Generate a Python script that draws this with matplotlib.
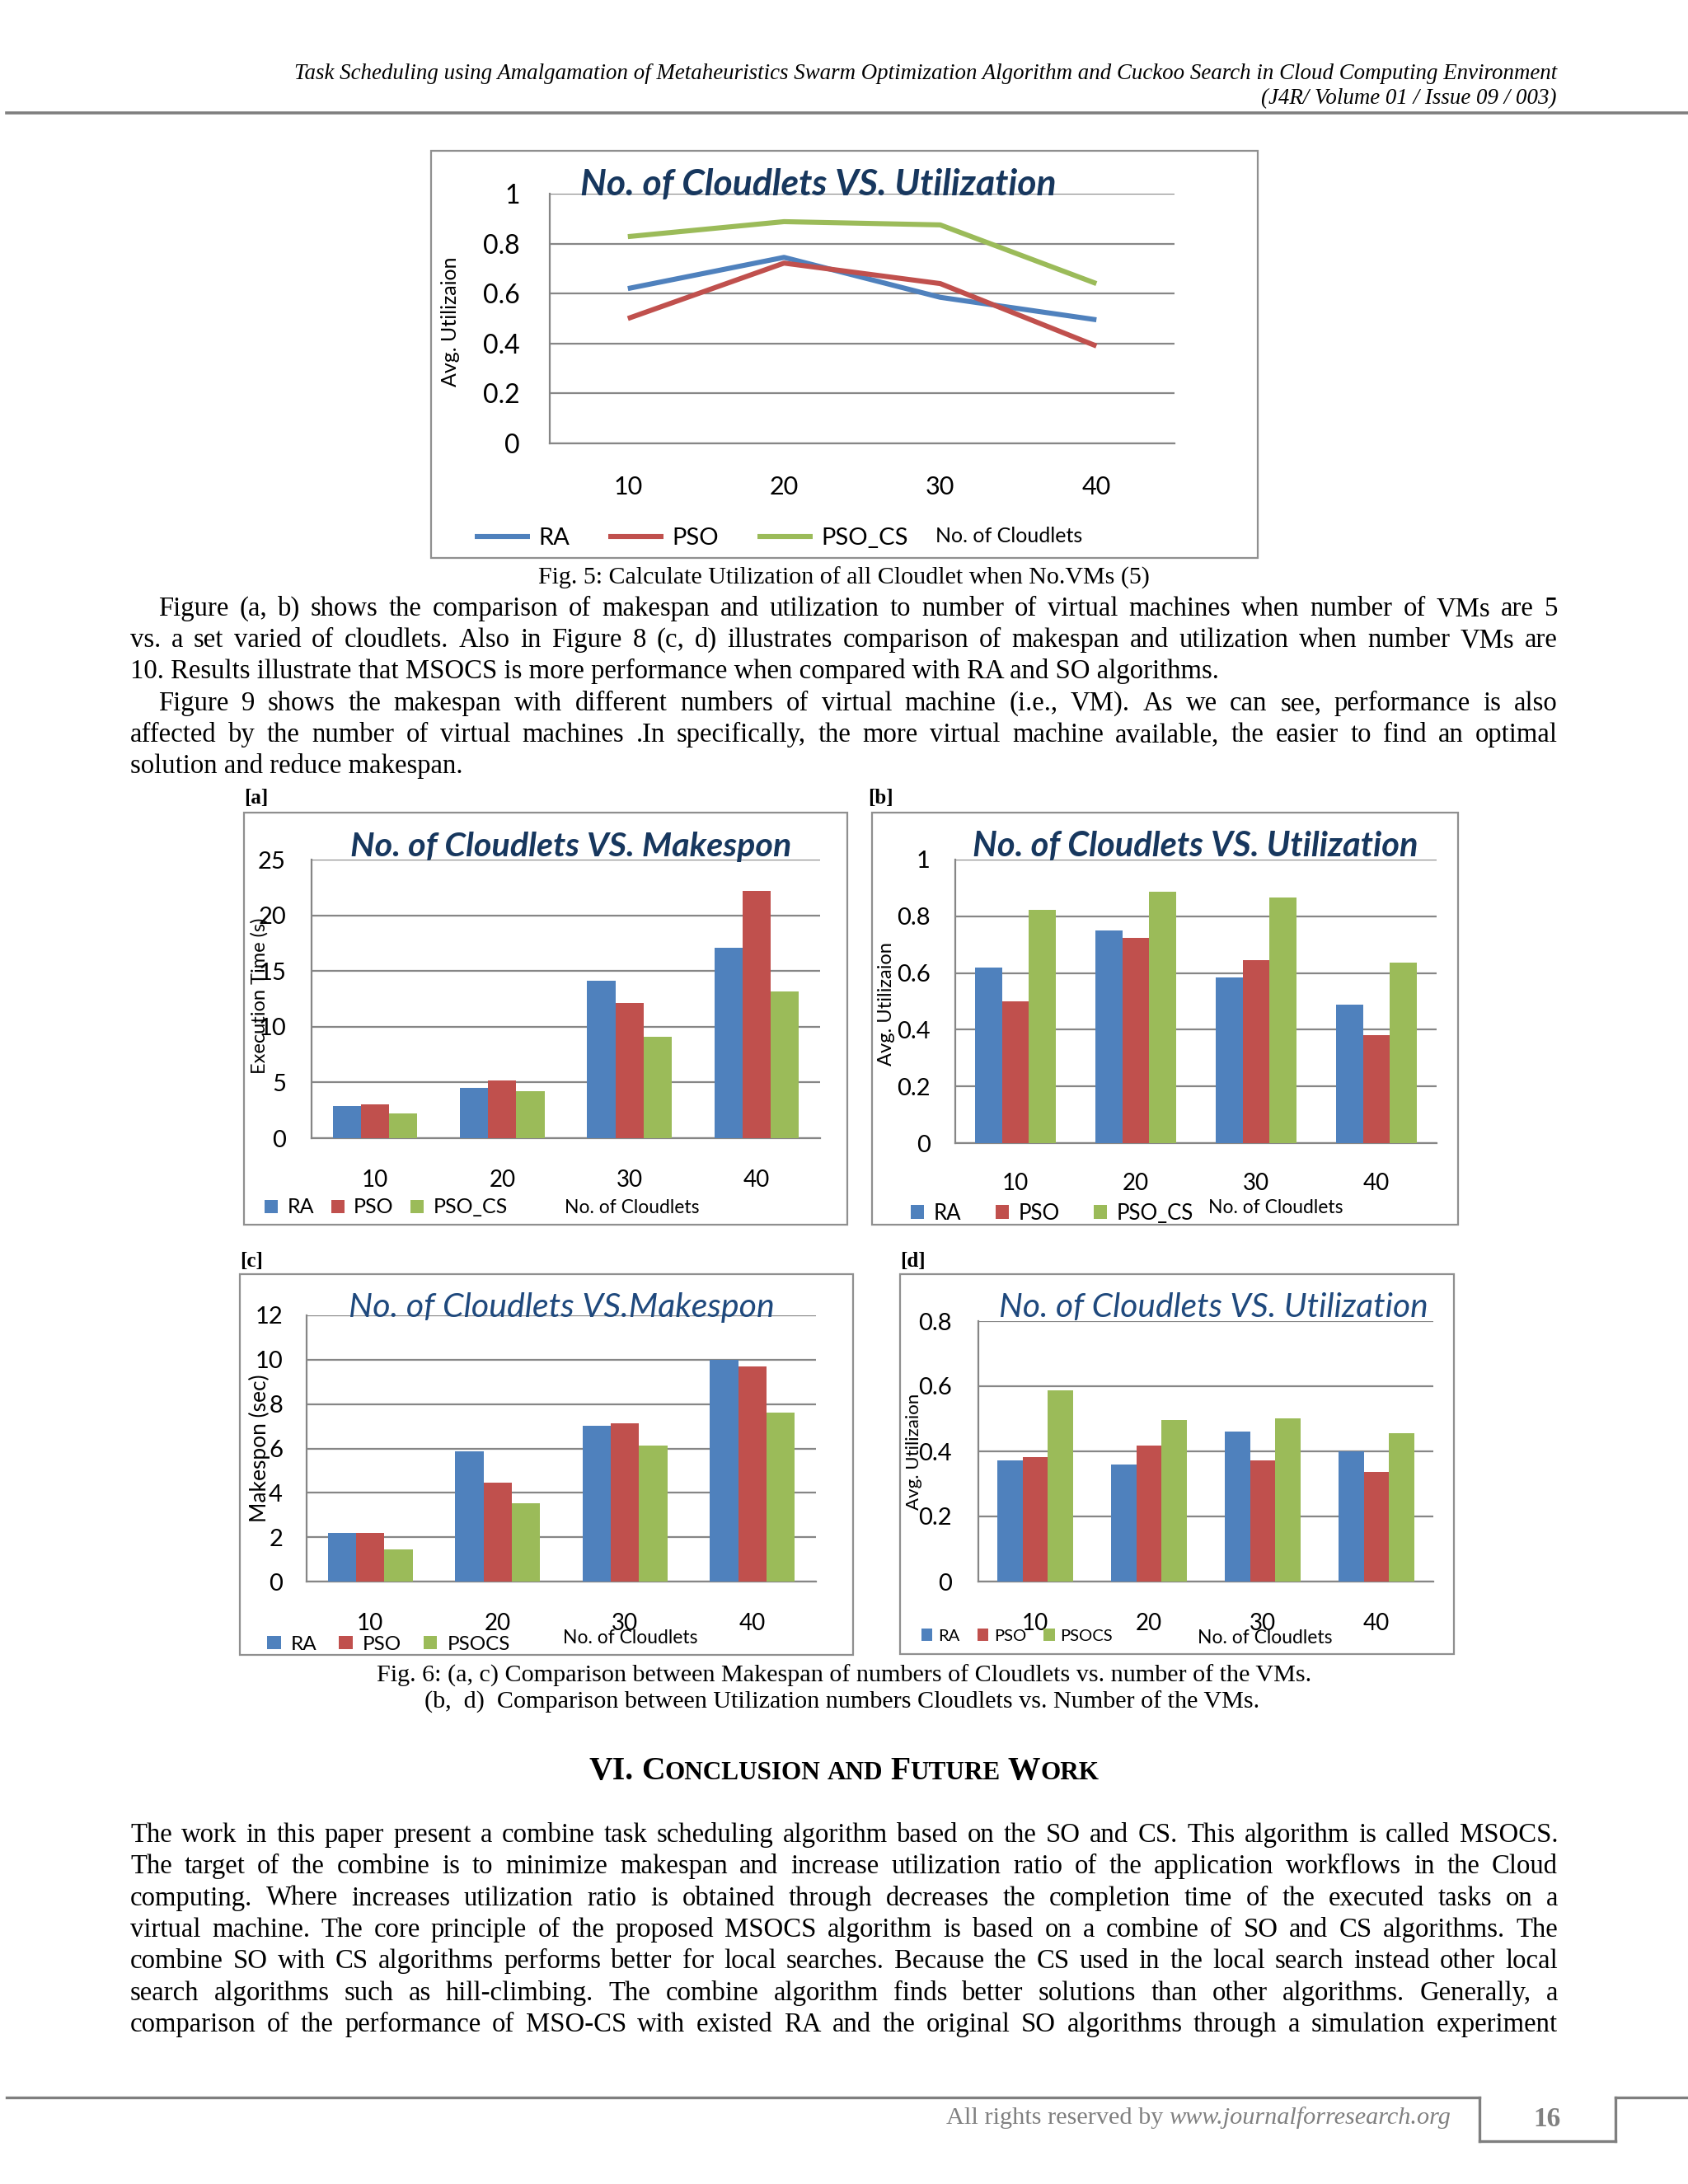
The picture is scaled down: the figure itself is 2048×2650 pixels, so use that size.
import numpy as np
import matplotlib
matplotlib.use('Agg')
import matplotlib.pyplot as plt
from matplotlib.patches import Rectangle
from matplotlib.lines import Line2D
from matplotlib import font_manager

W, H = 2048, 2650

# ---- chart data ----
cloudlets = ['10', '20', '30', '40']
names_cs = ['RA', 'PSO', 'PSO_CS']
names_ocs = ['RA', 'PSO', 'PSOCS']

# Fig. 5: utilization, 5 VMs (lines)
util5_ra = [0.62, 0.745, 0.585, 0.495]
util5_pso = [0.50, 0.722, 0.64, 0.39]
util5_psocs = [0.828, 0.888, 0.875, 0.64]

# [a] makespan, 5 VMs
mk5_ra = [2.9, 4.5, 14.1, 17.1]
mk5_pso = [3.0, 5.2, 12.1, 22.2]
mk5_psocs = [2.2, 4.2, 9.1, 13.2]

# [b] utilization, 5 VMs
ut5_ra = [0.62, 0.75, 0.585, 0.487]
ut5_pso = [0.50, 0.723, 0.644, 0.382]
ut5_psocs = [0.822, 0.887, 0.866, 0.638]

# [c] makespan, 10 VMs
mk10_ra = [2.2, 5.86, 7.02, 10.0]
mk10_pso = [2.2, 4.45, 7.12, 9.7]
mk10_psocs = [1.46, 3.54, 6.12, 7.61]

# [d] utilization, 10 VMs
ut10_ra = [0.371, 0.36, 0.462, 0.40]
ut10_pso = [0.383, 0.417, 0.371, 0.337]
ut10_psocs = [0.587, 0.497, 0.502, 0.456]

# ---- page text ----
header_1 = ('Task Scheduling using Amalgamation of Metaheuristics Swarm Optimization '
            'Algorithm and Cuckoo Search in Cloud Computing Environment')
header_2 = '(J4R/ Volume 01 / Issue 09 / 003)'
caption_5 = 'Fig. 5: Calculate Utilization of all Cloudlet when No.VMs (5)'
para_1 = [
    'Figure (a, b) shows the comparison of makespan and utilization to number of virtual machines when number of VMs are 5',
    'vs. a set varied of cloudlets. Also in Figure 8 (c, d) illustrates comparison of makespan and utilization when number VMs are',
    '10. Results illustrate that MSOCS is more performance when compared with RA and SO algorithms.',
]
para_2 = [
    'Figure 9 shows the makespan with different numbers of virtual machine (i.e., VM). As we can see, performance is also',
    'affected by the number of virtual machines .In specifically, the more virtual machine available, the easier to find an optimal',
    'solution and reduce makespan.',
]
caption_6a = 'Fig. 6: (a, c) Comparison between Makespan of numbers of Cloudlets vs. number of the VMs.'
caption_6b = '(b,  d)  Comparison between Utilization numbers Cloudlets vs. Number of the VMs.'
heading_words = [[('VI.', 'L')], [('C', 'L'), ('ONCLUSION', 'S')], [('AND', 'S')],
                 [('F', 'L'), ('UTURE', 'S')], [('W', 'L'), ('ORK', 'S')]]
para_3 = [
    'The work in this paper present a combine task scheduling algorithm based on the SO and CS. This algorithm is called MSOCS.',
    'The target of the combine is to minimize makespan and increase utilization ratio of the application workflows in the Cloud',
    'computing. Where increases utilization ratio is obtained through decreases the completion time of the executed tasks on a',
    'virtual machine. The core principle of the proposed MSOCS algorithm is based on a combine of SO and CS algorithms. The',
    'combine SO with CS algorithms performs better for local searches. Because the CS used in the local search instead other local',
    'search algorithms such as hill-climbing. The combine algorithm finds better solutions than other algorithms. Generally, a',
    'comparison of the performance of MSO-CS with existed RA and the original SO algorithms through a simulation experiment',
]

BLUE, RED, GREEN = '#4F81BD', '#C0504D', '#9BBB59'
COLORS = [BLUE, RED, GREEN]
GRID = '#868686'
FRAME = '#8f8f8f'
RULE = '#7f7f7f'

installed = {f.name for f in font_manager.fontManager.ttflist}
SERIF = 'Liberation Serif'
CHART_FONT = 'Lato'
TICK_FONT = 'Liberation Sans Narrow' if 'Liberation Sans Narrow' in installed else 'Lato'


def fx(x):
    return x / W


def fy(y):
    return 1 - y / H


def px2pt(p):
    return p * 72.0 / 100


def place_axes(fig, left, top, right, bottom):
    ax = fig.add_axes([fx(left), fy(bottom), (right - left) / W, (bottom - top) / H])
    ax.patch.set_alpha(0)
    return ax


def chart_frame(fig, left, top, right, bottom):
    fig.add_artist(Rectangle((fx(left), fy(bottom)), (right - left) / W, (bottom - top) / H,
                             transform=fig.transFigure, fill=False, edgecolor=FRAME,
                             linewidth=1.6))


def style_chart(ax, ymax, ystep, ysize, xsize, ypad, xpad):
    ax.set_xlim(0, 4)
    ax.set_ylim(0, ymax)
    yt = np.arange(0, ymax + ystep / 2, ystep)
    ax.set_yticks(yt, labels=['%g' % round(v, 3) for v in yt],
                  fontsize=ysize, fontfamily=TICK_FONT)
    ax.set_xticks(np.arange(4) + 0.5, labels=cloudlets, fontsize=xsize, fontfamily=TICK_FONT)
    for s in ['top', 'right']:
        ax.spines[s].set_visible(False)
    for s in ['left', 'bottom']:
        ax.spines[s].set_color(GRID)
        ax.spines[s].set_linewidth(1.6)
    ax.grid(axis='y', color=GRID, linewidth=1.6)
    ax.set_axisbelow(True)
    ax.tick_params(axis='y', length=0, pad=px2pt(ypad))
    ax.tick_params(axis='x', length=0, pad=px2pt(xpad))


def chart_title(fig, text, x, y, size, bold=True, color='#17375E'):
    fig.text(fx(x), fy(y), text, ha='center', va='center', fontsize=size,
             fontfamily=CHART_FONT, fontstyle='italic',
             fontweight='bold' if bold else 'normal', color=color, zorder=5)


def axis_labels(ax, fig, ylab, yx, yy, ysize, xx, xy, xsize):
    ax.set_ylabel(ylab, fontsize=ysize, fontfamily=CHART_FONT)
    ax.yaxis.set_label_coords(fx(yx), fy(yy), transform=fig.transFigure)
    ax.yaxis.label.set_va('center')
    ax.set_xlabel('No. of Cloudlets', fontsize=xsize, fontfamily=CHART_FONT)
    ax.xaxis.set_label_coords(fx(xx), fy(xy), transform=fig.transFigure)
    ax.xaxis.label.set_va('center')


def chart_legend(ax, fig, x, y, size, hlen, hh, tpad, cspace):
    ax.legend(loc='center left', bbox_to_anchor=(fx(x), fy(y)),
              bbox_transform=fig.transFigure, ncol=3, frameon=False,
              borderaxespad=0, borderpad=0, handlelength=hlen, handleheight=hh,
              handletextpad=tpad, columnspacing=cspace,
              prop={'family': CHART_FONT, 'size': size})


def draw_bars(ax, series, names):
    x = np.arange(4) + 0.5
    w = 0.222
    for i, (vals, name, col) in enumerate(zip(series, names, COLORS)):
        ax.bar(x + (i - 1) * w, vals, w, color=col, label=name, zorder=3)


def justified(fig, rend, line, x0, x1, y, size, justify=True):
    if not justify:
        fig.text(fx(x0), fy(y), line, fontsize=size, fontfamily=SERIF, va='baseline')
        return
    words = line.split()
    arts = [fig.text(fx(x0), fy(y), w, fontsize=size, fontfamily=SERIF, va='baseline')
            for w in words]
    widths = [a.get_window_extent(rend).width for a in arts]
    gap = (x1 - x0 - sum(widths)) / (len(words) - 1)
    xpos = x0
    for a, wd in zip(arts, widths):
        a.set_x(fx(xpos))
        xpos += wd + gap


fig = plt.figure(figsize=(W / 100, H / 100), dpi=100)
fig.patch.set_facecolor('white')
rend = fig.canvas.get_renderer()

# ---- header ----
fig.text(fx(1889), fy(96), header_1, ha='right', va='baseline', fontsize=19.4,
         fontfamily=SERIF, fontstyle='italic')
fig.text(fx(1889), fy(126), header_2, ha='right', va='baseline', fontsize=19.4,
         fontfamily=SERIF, fontstyle='italic')
fig.add_artist(Line2D([fx(8), fx(2048)], [fy(137), fy(137)], transform=fig.transFigure,
                      color=RULE, linewidth=2.6))

# ---- Fig. 5 line chart ----
chart_frame(fig, 523, 183, 1526, 677)
ax5 = place_axes(fig, 667, 235, 1425, 538)
x = np.arange(4) + 0.5
for vals, name, col in zip([util5_ra, util5_pso, util5_psocs], names_cs, COLORS):
    ax5.plot(x, vals, color=col, linewidth=4.4, label=name, zorder=3,
             solid_joinstyle='round', solid_capstyle='butt')
style_chart(ax5, 1.0, 0.2, 23, 22, 36, 39)
chart_title(fig, 'No. of Cloudlets VS. Utilization', 993, 224, 32)
axis_labels(ax5, fig, 'Avg. Utilizaion', 547, 390, 18, 1224, 651, 18)
chart_legend(ax5, fig, 576, 653, 21, 2.3, 0.7, 0.36, 1.6)

fig.text(fx(1024), fy(709), caption_5, ha='center', va='baseline', fontsize=21.6,
         fontfamily=SERIF)

# ---- body paragraphs ----
BODY = 23.6
L0, R0 = 158, 1890
base = [747, 785, 823, 862, 900, 938]
for i, line in enumerate(para_1):
    xs = L0 + 34 if i == 0 else L0
    justified(fig, rend, line, xs, R0, base[i], BODY, justify=(i < 2))
for i, line in enumerate(para_2):
    xs = L0 + 34 if i == 0 else L0
    justified(fig, rend, line, xs, R0, base[3 + i], BODY, justify=(i < 2))

# ---- Fig. 6 panel labels ----
for lab, lx in [('[a]', 296), ('[b]', 1053)]:
    fig.text(fx(lx), fy(975), lab, fontsize=18, fontfamily=SERIF, fontweight='bold',
             va='baseline')
for lab, lx in [('[c]', 291), ('[d]', 1092)]:
    fig.text(fx(lx), fy(1537), lab, fontsize=18, fontfamily=SERIF, fontweight='bold',
             va='baseline')

# [a]
chart_frame(fig, 296, 986, 1028, 1486)
axa = place_axes(fig, 378, 1043, 995, 1381)
draw_bars(axa, [mk5_ra, mk5_pso, mk5_psocs], names_cs)
style_chart(axa, 25, 5, 21, 20, 31, 38)
chart_title(fig, 'No. of Cloudlets VS. Makespon', 693, 1027, 29.7)
axis_labels(axa, fig, 'Execution Time (s)', 315, 1208, 17, 767, 1466, 16.5)
chart_legend(axa, fig, 321, 1465, 18, 0.65, 0.62, 0.45, 0.82)

# [b]
chart_frame(fig, 1058, 986, 1769, 1486)
axb = place_axes(fig, 1159, 1043, 1743, 1387)
draw_bars(axb, [ut5_ra, ut5_pso, ut5_psocs], names_cs)
style_chart(axb, 1.0, 0.2, 21, 20, 30, 36)
chart_title(fig, 'No. of Cloudlets VS. Utilization', 1450, 1027, 30)
axis_labels(axb, fig, 'Avg. Utilizaion', 1076, 1218, 17, 1548, 1466, 16.5)
chart_legend(axb, fig, 1105, 1472, 18.5, 0.64, 0.64, 0.45, 1.6)

# [c]
chart_frame(fig, 291, 1546, 1035, 2008)
axc = place_axes(fig, 372, 1596, 990, 1919)
draw_bars(axc, [mk10_ra, mk10_pso, mk10_psocs], names_ocs)
style_chart(axc, 12, 2, 21, 20, 29, 38)
chart_title(fig, 'No. of Cloudlets VS.Makespon', 681, 1587, 29.6, bold=False, color='#1F497D')
axis_labels(axc, fig, 'Makespon (sec)', 315, 1757, 19, 765, 1988, 16.5)
chart_legend(axc, fig, 324, 1995, 17.5, 0.68, 0.68, 0.5, 1.1)

# [d]
chart_frame(fig, 1092, 1546, 1764, 2007)
axd = place_axes(fig, 1187, 1603, 1739, 1919)
draw_bars(axd, [ut10_ra, ut10_pso, ut10_psocs], names_ocs)
style_chart(axd, 0.8, 0.2, 21, 20, 32, 38)
chart_title(fig, 'No. of Cloudlets VS. Utilization', 1472, 1586, 29.3, bold=False, color='#1F497D')
axis_labels(axd, fig, 'Avg. Utilizaion', 1109, 1761, 16, 1535, 1988, 16.5)
chart_legend(axd, fig, 1118, 1985, 14.5, 0.67, 0.7, 0.33, 1.05)

# ---- Fig. 6 captions ----
fig.text(fx(1024), fy(2041), caption_6a, ha='center', va='baseline', fontsize=21.7,
         fontfamily=SERIF)
fig.text(fx(1022), fy(2073), caption_6b, ha='center', va='baseline', fontsize=21.7,
         fontfamily=SERIF)

# ---- section heading in small caps ----
SIZES = {'L': 28.5, 'S': 22.5}
parts = []
for word in heading_words:
    pw = []
    for txt, sz in word:
        t = fig.text(fx(1024), fy(2159), txt, fontsize=SIZES[sz], fontfamily=SERIF,
                     fontweight='bold', va='baseline')
        pw.append((t, t.get_window_extent(rend).width))
    parts.append(pw)
space = 9
total = sum(w for pw in parts for _, w in pw) + space * (len(parts) - 1)
xpos = 1024 - total / 2
for pw in parts:
    for t, w in pw:
        t.set_x(fx(xpos))
        xpos += w
    xpos += space

# ---- conclusion paragraph ----
base3 = [2235, 2273, 2312, 2350, 2388, 2427, 2465]
for i, line in enumerate(para_3):
    justified(fig, rend, line, L0, R0, base3[i], BODY)

# ---- footer ----
for xs, ys in [([8, 1795], [2545, 2545]), ([1795, 1795], [2545, 2598]),
               ([1795, 1960], [2598, 2598]), ([1960, 1960], [2598, 2545]),
               ([1960, 2048], [2545, 2545])]:
    fig.add_artist(Line2D([fx(v) for v in xs], [fy(v) for v in ys],
                          transform=fig.transFigure, color=RULE, linewidth=2.4))
site = fig.text(fx(1760), fy(2577), 'www.journalforresearch.org', ha='right', va='baseline',
                fontsize=21.8, fontfamily=SERIF, fontstyle='italic', color='#808080')
sw = site.get_window_extent(rend).width
fig.text(fx(1760 - sw - 7), fy(2577), 'All rights reserved by', ha='right', va='baseline',
         fontsize=21.8, fontfamily=SERIF, color='#808080')
fig.text(fx(1877), fy(2580), '16', ha='center', va='baseline', fontsize=24,
         fontfamily=SERIF, fontweight='bold', color='#808080')

fig.savefig('out.png', dpi=100, facecolor='white')
